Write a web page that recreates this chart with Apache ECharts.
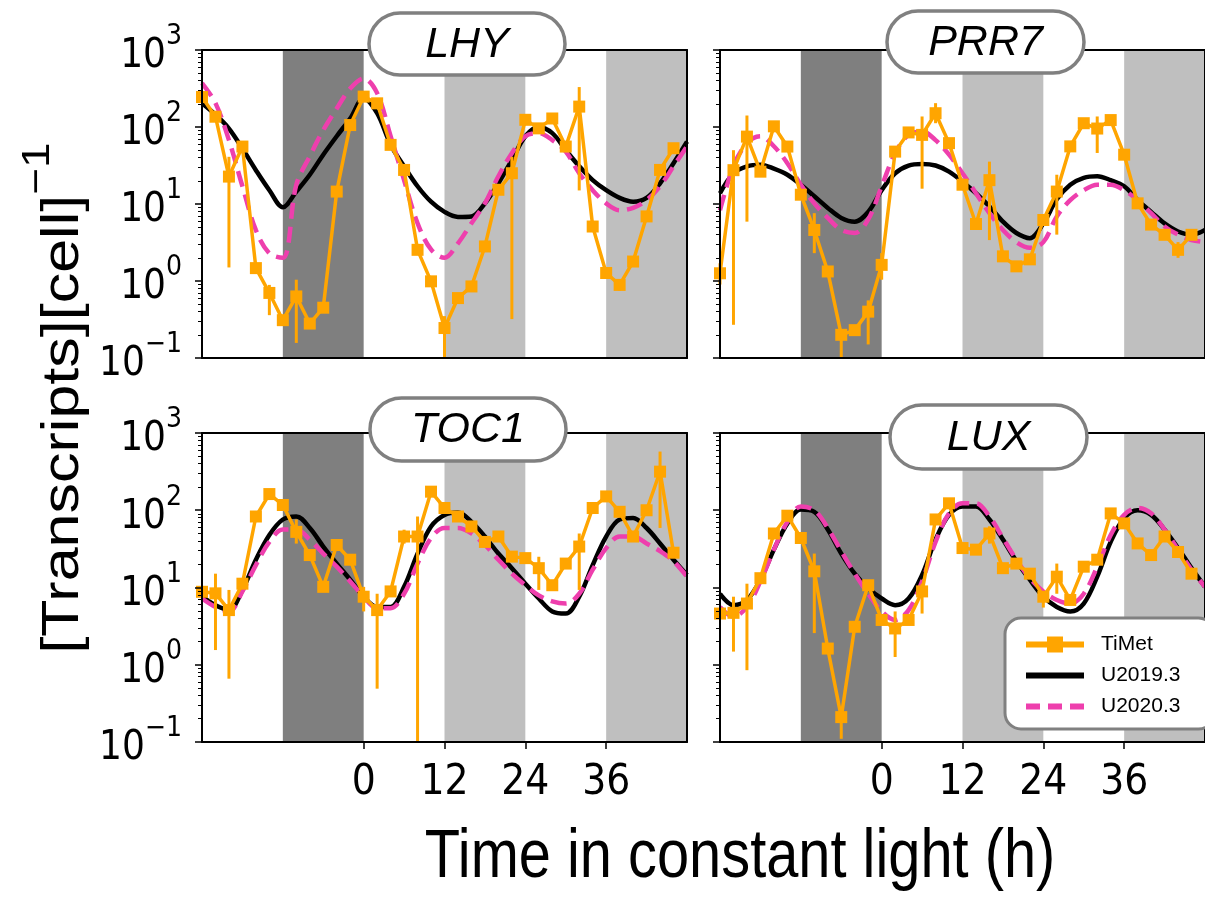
<!DOCTYPE html>
<html>
<head>
  <meta charset="utf-8">
  <title>clock genes</title>
  <style>
    html, body, #main { margin: 0; padding: 0; width: 1205px; height: 900px; background: #fff; }
  </style>
  <script src="https://cdn.jsdelivr.net/npm/echarts@6/dist/echarts.min.js"></script>
</head>
<body>
<div id="main"></div>
<script>
// sampling times (h)
const hours = [-24,-22,-20,-18,-16,-14,-12,-10,-8,-6,-4,-2,0,2,4,6,8,10,12,14,16,18,20,22,24,26,28,30,32,34,36,38,40,42,44,46];
const modelHours = [-24,-22,-20,-18,-16,-14,-12,-10,-8,-6,-4,-2,0,2,4,6,8,10,12,14,16,18,20,22,24,26,28,30,32,34,36,38,40,42,44,46,48];
const xTicks = [0, 12, 24, 36];
const yTicks = [0.1, 1, 10, 100, 1000];
// dark = subjective night before release, light = subjective nights in LL
const darkBands = [[-12, 0]];
const lightBands = [[12, 24], [36, 48]];
const legendNames = ['TiMet', 'U2019.3', 'U2020.3'];

// LHY
const lhyTimet = [245,136,22.7,55.7,1.47,0.70,0.31,0.63,0.28,0.45,14.5,106,248,203,58.6,27.7,2.54,0.99,0.245,0.60,0.85,2.81,15.3,25.1,124,96,129,55.7,184,5.1,1.27,0.89,1.79,6.9,27.7,53];
const lhyErr = [[-20,1.5,41],[-14,0.36,0.89],[-10,0.157,1.04],[12,0.1,0.35],[22,0.32,41],[32,15,330],[38,0.75,1.05]];
const lhy2019 = [204,145,95.5,52.5,27.5,15.1,9.1,14.5,24,43.7,75.9,129,234,151,59,30.9,17,10.7,7.9,6.8,6.9,10.2,18.6,37.2,75.9,100,83.2,50.1,30.9,20.4,15.1,12,10.7,12,18.6,33.9,64.6];
const lhy2020 = [372,204,67.6,17,4.57,2.29,2.0,17.8,41.7,91.2,174,316,427,275,75.9,20.4,5.62,2.57,2.0,3.09,5.62,10.2,22.9,45.7,75.9,83.2,67.6,47.9,25.1,15.1,10.2,8.3,8.9,11.2,17,30.9,56.2];

// PRR7
const prrTimet = [1.26,27.5,75,26.3,102,55.7,13.2,4.6,1.33,0.20,0.23,0.40,1.62,47.9,85,79,151,61.7,17.8,5.5,20.4,2.09,1.55,1.91,6.2,14.5,56,112,95.5,123,43.7,10.2,5.4,3.98,2.54,3.98];
const prrErr = [[-24,0.9,1.7],[-22,0.27,50],[-20,5.9,141],[-10,2.3,7.6],[-6,0.1,0.23],[-2,0.15,0.56],[0,1.04,2.3],[6,15.8,137],[8,112,204],[16,3.4,35.5],[26,4,24],[32,46,137],[44,2.0,3.2]];
const prr2019 = [13.8,25.1,30.9,32.4,28.8,24,17.8,12.6,8.9,6.6,5.9,7.9,15.1,25.1,31.6,33.1,31.6,26.3,19.5,13.8,9.3,5.9,4.2,3.6,5.6,11.5,17.8,21.9,22.9,20.4,17,11.2,7.9,5.6,4.4,4.0,4.6];
const prr2020 = [8.3,30.9,61.7,75.9,56.2,33.9,17.8,10.2,6.6,4.6,4.2,6.3,17,45.7,79.4,87.1,67.6,43.7,25.1,13.8,7.6,4.6,3.2,2.7,3.2,6.9,11.2,15.1,17.8,17.8,15.1,11.2,7.6,5.1,4.0,3.4,3.2];

// TOC1
const tocTimet = [8.8,8.4,5.1,11.2,83,162,117,52.5,26.3,10.2,35.5,22.9,7.6,5.1,8.9,45.7,45.7,174,107,83,61.7,38.9,45.7,25.1,24,17.8,10.7,20.4,33.9,107,151,95.5,45.7,100,316,28.2];
const tocErr = [[-22,1.55,15.1],[-20,0.66,9.3],[-10,37,76],[0,4.9,10.2],[2,0.49,8.3],[6,37,56],[8,0.1,83],[26,9.3,25],[32,9.3,50],[44,59,575]];
const toc2019 = [7.6,5.9,5.1,9.3,22.9,47.9,75.9,83.2,58.9,33.9,20.4,12.6,7.6,5.6,5.6,10.2,27.5,61.7,87.1,93.3,70.8,45.7,27.5,17.8,11.2,7.2,4.9,4.6,7.6,19.5,45.7,75.9,79.4,58.9,37.2,22.9,14.5];
const toc2020 = [7.2,5.6,4.9,8.9,19.5,38.9,56.2,56.2,41.7,27.5,18.6,12,7.6,5.4,5.4,8.3,20.4,43.7,58.9,58.9,50.1,35.5,22.9,15.1,10.7,7.9,6.6,6.2,8.3,17,32.4,45.7,45.7,37.2,29.5,21.9,13.8];

// LUX
const luxTimet = [4.6,4.7,6.2,13.2,50,85,43.7,16.2,1.62,0.21,3.1,10.7,3.8,2.95,3.8,8.9,76,123,32.4,30.9,50,17.8,20.4,15.1,7.6,13.8,6.9,18.6,22.9,91,67.6,37.2,26.3,45.7,28.8,15.1];
const luxErr = [[-22,1.48,7.6],[-20,0.85,11.2],[-10,2.57,27.5],[-6,0.11,0.28],[2,1.26,4.9],[6,4.6,11.2],[16,37,62],[24,5.5,9],[26,8.3,20.4]];
const lux2019 = [8.3,5.9,6.9,12.6,30.9,67.6,102,95.5,56.2,27.5,15.1,9.8,7.2,5.9,7.2,14.5,41.7,87.1,112,112,75.9,41.7,21.9,12.6,7.6,5.6,4.9,6.2,13.8,38.9,79.4,100,87.1,56.2,32.4,17.8,10.2];
const lux2020 = [5.6,4.2,5.6,12,30.9,70.8,112,100,58.9,29.5,15.1,8.3,4.9,3.8,5.1,12,38.9,91.2,123,123,83.2,43.7,22.9,13.2,8.9,6.9,6.2,8.3,18.6,47.9,87.1,107,91.2,56.2,30.9,17,10.2];

const panels = [
  { gene: 'LHY',  timet: lhyTimet, err: lhyErr, u19: lhy2019, u20: lhy2020 },
  { gene: 'PRR7', timet: prrTimet, err: prrErr, u19: prr2019, u20: prr2020 },
  { gene: 'TOC1', timet: tocTimet, err: tocErr, u19: toc2019, u20: toc2020 },
  { gene: 'LUX',  timet: luxTimet, err: luxErr, u19: lux2019, u20: lux2020 }
];

const layout = [
  { grid: { left: 202, top: 50, width: 485, height: 308 },  pill: [369, 13, 196, 62],  yLab: true,  xLab: false },
  { grid: { left: 720, top: 50, width: 486, height: 308 },  pill: [887, 11, 197, 62],  yLab: false, xLab: false },
  { grid: { left: 202, top: 433, width: 485, height: 309 }, pill: [370, 398, 196, 63], yLab: true,  xLab: true },
  { grid: { left: 720, top: 433, width: 486, height: 309 }, pill: [890, 405, 197, 64], yLab: false, xLab: true }
];

const ORANGE = '#ffa500', PINK = '#ee3fad', DARK = '#7f7f7f', LIGHT = '#bfbfbf';
const FRAME = { show: true, onZero: false, lineStyle: { color: '#000', width: 2 } };

// log minor ticks on an exponent axis laid over the log axis
const minorTicks = [];
for (let e = -1; e < 3; e++) {
  for (let m = 2; m <= 9; m++) minorTicks.push(+(e + Math.log10(m)).toFixed(4));
}

function expLabel(v) {
  const e = Math.round(Math.log10(v));
  return '{b|10}{s|' + (e < 0 ? '\u2212' + (-e) : e) + '}';
}

const grids = [], xAxes = [], yAxes = [], series = [], graphics = [];

panels.forEach(function (p, i) {
  const L = layout[i];
  grids.push(Object.assign({ containLabel: false }, L.grid));

  xAxes.push({
    gridIndex: i, type: 'value', min: -24, max: 48, z: 10,
    axisLine: FRAME,
    axisTick: { show: L.xLab, customValues: xTicks, length: 7, lineStyle: { color: '#000', width: 1.5 } },
    axisLabel: { show: L.xLab, customValues: xTicks, margin: 20, color: '#000', fontSize: 42, fontFamily: 'DejaVu Sans Condensed' },
    splitLine: { show: false }
  });
  xAxes.push({
    gridIndex: i, type: 'value', min: -24, max: 48, position: 'top', z: 10,
    axisLine: FRAME, axisTick: { show: false }, axisLabel: { show: false }, splitLine: { show: false }
  });

  yAxes.push({
    gridIndex: i, type: 'log', logBase: 10, min: yTicks[0], max: yTicks[yTicks.length - 1], position: 'left', z: 10,
    axisLine: FRAME,
    axisTick: { length: 7, lineStyle: { color: '#000', width: 1.5 } },
    axisLabel: {
      show: L.yLab, margin: 20, color: '#000', formatter: expLabel,
      rich: {
        b: { fontSize: 40, fontFamily: 'DejaVu Sans Condensed', lineHeight: 54, verticalAlign: 'bottom', color: '#000' },
        s: { fontSize: 28, fontFamily: 'DejaVu Sans Condensed', lineHeight: 28, verticalAlign: 'top', color: '#000' }
      }
    },
    splitLine: { show: false }
  });
  yAxes.push({
    gridIndex: i, type: 'value', min: -1, max: 3, position: 'left', z: 10,
    axisLine: { show: false, onZero: false },
    axisTick: { show: true, customValues: minorTicks, length: 4, lineStyle: { color: '#000', width: 1 } },
    axisLabel: { show: false }, splitLine: { show: false }
  });
  yAxes.push({
    gridIndex: i, type: 'value', min: -1, max: 3, position: 'right', z: 10,
    axisLine: FRAME, axisTick: { show: false }, axisLabel: { show: false }, splitLine: { show: false }
  });

  const xi = 2 * i, yi = 3 * i;
  const bands = darkBands.map(function (b) { return [{ xAxis: b[0], itemStyle: { color: DARK } }, { xAxis: b[1] }]; })
    .concat(lightBands.map(function (b) { return [{ xAxis: b[0], itemStyle: { color: LIGHT } }, { xAxis: b[1] }]; }));

  series.push({
    name: 'bands' + i, type: 'line', xAxisIndex: xi, yAxisIndex: yi, data: [], z: 1, silent: true,
    markArea: { silent: true, itemStyle: { opacity: 1 }, data: bands }
  });
  series.push({
    name: 'U2019.3', type: 'line', xAxisIndex: xi, yAxisIndex: yi, z: 2, smooth: 0.35,
    showSymbol: false, symbol: 'none', color: '#000', itemStyle: { opacity: 0 },
    lineStyle: { color: '#000', width: 4.5 },
    data: modelHours.map(function (t, k) { return [t, p.u19[k]]; })
  });
  series.push({
    name: 'U2020.3', type: 'line', xAxisIndex: xi, yAxisIndex: yi, z: 3, smooth: 0.35,
    showSymbol: false, symbol: 'none', color: PINK, itemStyle: { opacity: 0 },
    lineStyle: { color: PINK, width: 4.5, type: [16, 8] },
    data: modelHours.map(function (t, k) { return [t, p.u20[k]]; })
  });
  series.push({
    name: 'TiMet-err' + i, type: 'custom', xAxisIndex: xi, yAxisIndex: yi, z: 4, silent: true,
    encode: { x: 0, y: [1, 2] },
    data: p.err,
    renderItem: function (params, api) {
      const a = api.coord([api.value(0), api.value(1)]);
      const b = api.coord([api.value(0), api.value(2)]);
      return { type: 'line', shape: { x1: a[0], y1: a[1], x2: b[0], y2: b[1] }, style: { stroke: ORANGE, lineWidth: 3 } };
    }
  });
  series.push({
    name: 'TiMet', type: 'line', xAxisIndex: xi, yAxisIndex: yi, z: 5,
    symbol: 'rect', symbolSize: 12, color: ORANGE,
    itemStyle: { color: ORANGE }, lineStyle: { color: ORANGE, width: 3.5 },
    data: hours.map(function (t, k) { return [t, p.timet[k]]; })
  });

  const r = L.pill;
  graphics.push({
    type: 'rect', z: 100, shape: { x: r[0], y: r[1], width: r[2], height: r[3], r: r[3] / 2 },
    style: { fill: '#fff', stroke: '#808080', lineWidth: 3.5 }
  });
  graphics.push({
    type: 'text', z: 101, x: r[0] + r[2] / 2, y: r[1] + r[3] / 2 + 1,
    style: { text: p.gene, fontSize: 43, fontStyle: 'italic', fontFamily: 'Liberation Sans', fill: '#000', align: 'center', verticalAlign: 'middle' }
  });
});

graphics.push({
  type: 'text', z: 101, x: 54, y: 398, rotation: Math.PI / 2, scaleY: 0.86,
  style: {
    text: '{m|[Transcripts][cell]}{s|\u22121}', align: 'center', verticalAlign: 'middle', fill: '#000',
    rich: {
      m: { fontSize: 61, fontFamily: 'Liberation Sans', lineHeight: 84, verticalAlign: 'bottom' },
      s: { fontSize: 46, fontFamily: 'Liberation Sans', lineHeight: 46, verticalAlign: 'top' }
    }
  }
});
graphics.push({
  type: 'text', z: 101, x: 740, y: 858, scaleX: 0.85,
  style: { text: 'Time in constant light (h)', fontSize: 68, fontFamily: 'Liberation Sans', fill: '#000', align: 'center', verticalAlign: 'middle' }
});

const chart = echarts.init(document.getElementById('main'), null, { renderer: 'canvas' });
chart.setOption({
  animation: false,
  backgroundColor: '#fff',
  grid: grids,
  xAxis: xAxes,
  yAxis: yAxes,
  legend: {
    data: [
      { name: legendNames[0], lineStyle: { width: 6 } },
      { name: legendNames[1], itemStyle: { opacity: 0 }, lineStyle: { width: 6 } },
      { name: legendNames[2], itemStyle: { opacity: 0 }, lineStyle: { width: 6, type: [14, 8] } }
    ],
    orient: 'vertical', left: 1005, top: 618, z: 20,
    backgroundColor: '#fff', borderColor: '#808080', borderWidth: 3, borderRadius: 16,
    padding: [16, 34, 12, 18], itemGap: 10, itemWidth: 58, itemHeight: 20,
    textStyle: { fontSize: 21, color: '#000', fontFamily: 'Liberation Sans', padding: [0, 0, 0, 12] }
  },
  series: series,
  graphic: graphics
});
</script>
</body>
</html>
